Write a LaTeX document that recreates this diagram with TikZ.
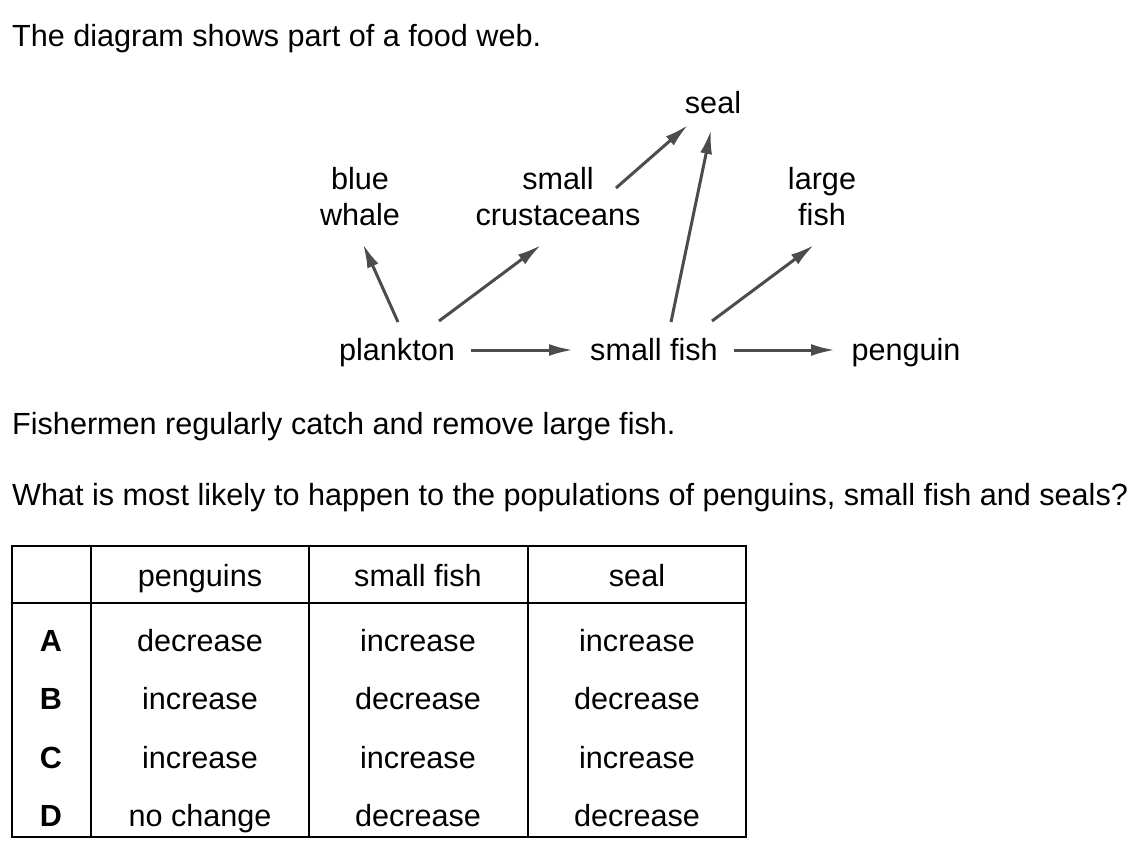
\documentclass[tikz,border=0pt]{standalone}
\usepackage{fontspec}
\setmainfont{Liberation Sans}
\usetikzlibrary{arrows.meta}
\begin{document}
\begin{tikzpicture}[x=1pt,y=-1pt,
  txt/.style={inner sep=0pt,anchor=base,font=\fontsize{30.6}{36}\selectfont},
  ltxt/.style={txt,anchor=base west},
  btxt/.style={txt,font=\fontsize{30.6}{36}\selectfont\bfseries},
  arr/.style={draw=black!70,line width=3pt,-{Latex[length=24pt,width=12pt]}},
  tline/.style={line width=2pt}]
\useasboundingbox (0,0) rectangle (1137,855);
% texts
\node[ltxt] (title) at (12,46) {The diagram shows part of a food web.};
\node[ltxt] (fish) at (12,434) {Fishermen regularly catch and remove large fish.};
\node[ltxt] (quest) at (12,505) {What is most likely to happen to the populations of penguins, small fish and seals?};
% food web
\node[txt] (seal) at (713,113) {seal};
\node[txt] (blue) at (360,189) {blue};
\node[txt] (whale) at (360,225) {whale};
\node[txt] (small) at (558,189) {small};
\node[txt] (crust) at (558,225) {crustaceans};
\node[txt] (large) at (822,189) {large};
\node[txt] (lfish) at (822,225) {fish};
\node[txt] (plankton) at (397,360) {plankton};
\node[txt] (sfish) at (654,360) {small fish};
\node[txt] (penguin) at (906,360) {penguin};
% arrow ends
\coordinate (a1) at (398,322); \coordinate (b1) at (363,244);
\coordinate (a2) at (439,321); \coordinate (b2) at (541,245);
\coordinate (a3) at (616,188); \coordinate (b3) at (688,125);
\coordinate (a4) at (671,322); \coordinate (b4) at (711,130);
\coordinate (a5) at (712,321); \coordinate (b5) at (814,245);
\coordinate (a6) at (471,350); \coordinate (b6) at (573,350);
\coordinate (a7) at (734,350); \coordinate (b7) at (835,350);
\draw[arr] (a1) -- (b1);
\draw[arr] (a2) -- (b2);
\draw[arr] (a3) -- (b3);
\draw[arr] (a4) -- (b4);
\draw[arr] (a5) -- (b5);
\draw[arr] (a6) -- (b6);
\draw[arr] (a7) -- (b7);
% table
\draw[tline] (12,546) rectangle (746,837);
\draw[tline] (12,603) -- (746,603);
\draw[tline] (91,546) -- (91,837);
\draw[tline] (309,546) -- (309,837);
\draw[tline] (528,546) -- (528,837);
\node[txt] (h1) at (200,586) {penguins};
\node[txt] (h2) at (418,586) {small fish};
\node[txt] (h3) at (637,586) {seal};
\node[btxt] (rA) at (51,651) {A};
\node[btxt] (rB) at (51,709) {B};
\node[btxt] (rC) at (51,768) {C};
\node[btxt] (rD) at (51,826) {D};
\node[txt] (a1c) at (200,651) {decrease};
\node[txt] (a2c) at (418,651) {increase};
\node[txt] (a3c) at (637,651) {increase};
\node[txt] (b1c) at (200,709) {increase};
\node[txt] (b2c) at (418,709) {decrease};
\node[txt] (b3c) at (637,709) {decrease};
\node[txt] (c1c) at (200,768) {increase};
\node[txt] (c2c) at (418,768) {increase};
\node[txt] (c3c) at (637,768) {increase};
\node[txt] (d1c) at (200,826) {no change};
\node[txt] (d2c) at (418,826) {decrease};
\node[txt] (d3c) at (637,826) {decrease};
\end{tikzpicture}
\end{document}
